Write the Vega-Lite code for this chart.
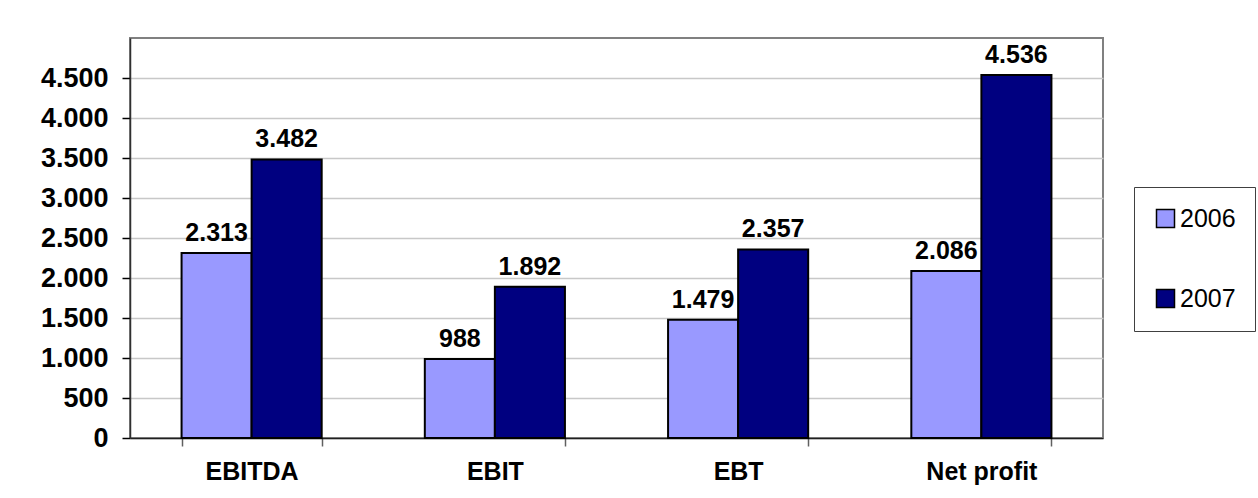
{
  "$schema": "https://vega.github.io/schema/vega-lite/v6.json",
  "width": 973,
  "height": 400,
  "autosize": {"type": "none"},
  "padding": {"left": 130, "top": 38, "right": 155, "bottom": 60},
  "background": "white",
  "config": {
    "locale": {"number": {"decimal": ",", "thousands": ".", "grouping": [3], "currency": ["", " €"]}},
    "font": "Liberation Sans",
    "view": {"stroke": "#808080", "strokeWidth": 2}
  },
  "data": {
    "values": [
      {"measure": "EBITDA", "year": "2006", "value": 2313},
      {"measure": "EBITDA", "year": "2007", "value": 3482},
      {"measure": "EBIT", "year": "2006", "value": 988},
      {"measure": "EBIT", "year": "2007", "value": 1892},
      {"measure": "EBT", "year": "2006", "value": 1479},
      {"measure": "EBT", "year": "2007", "value": 2357},
      {"measure": "Net profit", "year": "2006", "value": 2086},
      {"measure": "Net profit", "year": "2007", "value": 4536}
    ]
  },
  "encoding": {
    "x": {
      "field": "measure",
      "type": "nominal",
      "sort": ["EBITDA", "EBIT", "EBT", "Net profit"],
      "title": null,
      "scale": {"paddingInner": 0.424, "paddingOuter": 0.212},
      "axis": {
        "labelAngle": 0,
        "labelFontSize": 25,
        "labelFontWeight": "bold",
        "labelColor": "black",
        "labelPadding": 13,
        "tickBand": "extent",
        "tickSize": 8,
        "tickColor": "#606060",
        "tickWidth": 1.5,
        "domainColor": "#202020",
        "domainWidth": 1.5,
        "grid": false
      }
    },
    "xOffset": {
      "field": "year",
      "type": "nominal",
      "scale": {"paddingInner": 0, "paddingOuter": 0}
    },
    "y": {
      "field": "value",
      "type": "quantitative",
      "title": null,
      "scale": {"domain": [0, 5000], "nice": false},
      "axis": {
        "values": [0, 500, 1000, 1500, 2000, 2500, 3000, 3500, 4000, 4500],
        "format": ",d",
        "labelFontSize": 27,
        "labelFontWeight": "bold",
        "labelColor": "black",
        "labelPadding": 14,
        "tickSize": 8,
        "tickColor": "black",
        "tickWidth": 1.5,
        "domainColor": "#303030",
        "domainWidth": 1.5,
        "grid": true,
        "gridColor": "#C8C8C8",
        "gridWidth": 1.5
      }
    }
  },
  "layer": [
    {
      "mark": {"type": "bar", "stroke": "black", "strokeWidth": 2},
      "encoding": {
        "color": {
          "field": "year",
          "type": "nominal",
          "scale": {"domain": ["2006", "2007"], "range": ["#9999FF", "#000080"]},
          "legend": {
            "title": null,
            "orient": "none",
            "legendX": 1004,
            "legendY": 149,
            "symbolType": "square",
            "symbolSize": 324,
            "symbolStrokeColor": "black",
            "symbolStrokeWidth": 1.5,
            "symbolOpacity": 1,
            "labelFontSize": 25,
            "labelColor": "black",
            "labelOffset": 2,
            "rowPadding": 54,
            "padding": 19,
            "strokeColor": "#404040",
            "fillColor": "white"
          }
        }
      }
    },
    {
      "mark": {"type": "text", "baseline": "bottom", "dy": -7, "fontSize": 25, "fontWeight": "bold", "color": "black"},
      "encoding": {
        "text": {"field": "value", "type": "quantitative", "format": ",d"}
      }
    }
  ]
}
